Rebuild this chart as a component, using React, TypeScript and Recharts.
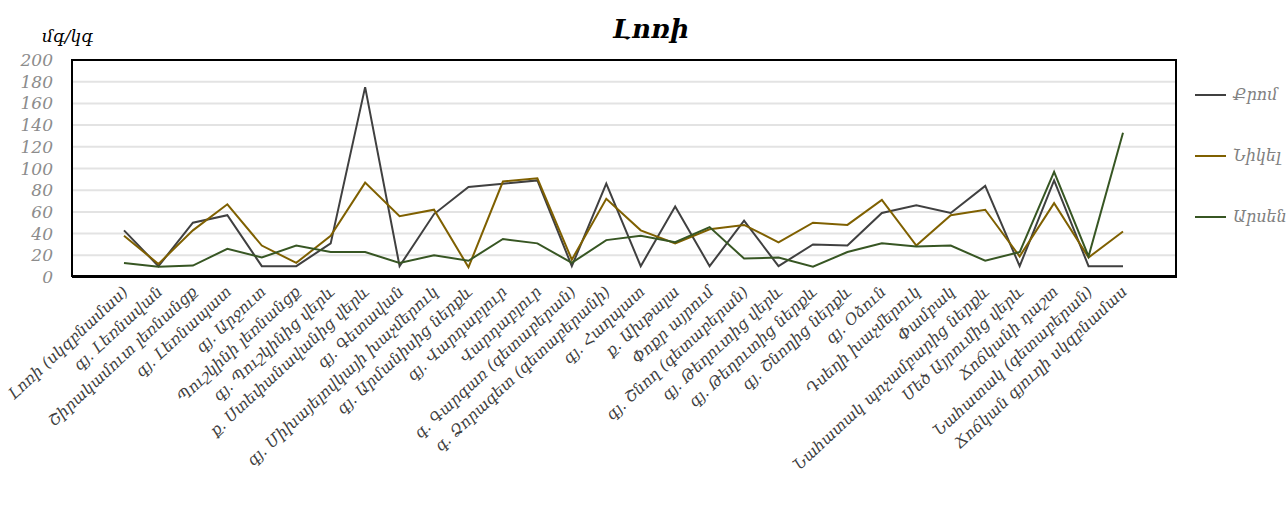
import { LineChart, Line, XAxis, YAxis, CartesianGrid } from 'recharts'

// Sampling sites along the river, upstream to downstream
const sites = [
  'Լոռի (սկզբնամաս)',
  'գյ. Լեռնավան',
  'Շիրակամուտ լեռնանցք',
  'գյ. Լեռնապատ',
  'գյ. Արջուտ',
  'Պուշկինի լեռնանցք',
  'գյ. Պուշկինից վերև',
  'ք. Ստեփանավանից վերև',
  'գյ. Գետավան',
  'գյ. Միխայելովկայի խաչմերուկ',
  'գյ. Արմանիսից ներքև',
  'գյ. Վարդաբլուր',
  'Վարդաբլուր',
  'գ. Գարգառ (գետաբերան)',
  'գ. Ձորագետ (գետաբերանի)',
  'գյ. Հաղպատ',
  'ք. Ախթալա',
  'Փոքր այրում',
  'գյ. Շնող (գետաբերան)',
  'գյ. Թեղուտից վերև',
  'գյ. Թեղուտից ներքև',
  'գյ. Շնողից ներքև',
  'գյ. Օձուն',
  'Դսեղի խաչմերուկ',
  'Փամբակ',
  'Նահատակ պոչամբարից ներքև',
  'Մեծ Այրումից վերև',
  'Ճոճկանի դաշտ',
  'Նահատակ (գետաբերան)',
  'Ճոճկան գյուղի սկզբնամաս',
]

// մգ/կգ
const chromium = [43, 10, 50, 57, 10, 10, 31, 175, 10, 58, 83, 86, 89, 10, 86, 10, 65, 10, 52, 10, 30, 29, 59, 66, 59, 84, 10, 89, 10, 10]
const nickel = [38, 12, 43, 67, 29, 13, 38, 87, 56, 62, 9, 88, 91, 16, 72, 43, 31, 44, 48, 32, 50, 48, 71, 29, 57, 62, 19, 68, 18, 42]
const arsenic = [13, 9.5, 10.5, 26, 18, 29, 23, 23, 13, 20, 15, 35, 31, 13, 34, 38, 32, 46, 17, 18, 9.5, 23, 31, 28, 29, 15, 23, 97, 19, 133]

const yTicks = [0, 20, 40, 60, 80, 100, 120, 140, 160, 180, 200]

const series = [
  { key: 'chromium', name: 'Քրոմ', color: '#404040' },
  { key: 'nickel', name: 'Նիկել', color: '#7f6000' },
  { key: 'arsenic', name: 'Արսեն', color: '#375623' },
]

const rows = sites.map((name, i) => ({
  name,
  chromium: chromium[i],
  nickel: nickel[i],
  arsenic: arsenic[i],
}))

const FONT = '"DejaVu Serif", serif'

const SiteTick = ({ x, y, payload }: any) => (
  <text
    transform={`translate(${x + 5}, ${y + 14}) rotate(-43)`}
    textAnchor="end"
    fontFamily={FONT}
    fontStyle="italic"
    fontSize={15.5}
    fill="#404040"
  >
    {payload.value}
  </text>
)

const SideLegend = () => (
  <div style={{ position: 'absolute', left: 1195, top: 64 }}>
    {series.map((s) => (
      <div key={s.key} style={{ display: 'flex', alignItems: 'center', height: 61 }}>
        <div style={{ width: 31, height: 2, background: s.color, marginRight: 7 }} />
        <span style={{ fontFamily: FONT, fontStyle: 'italic', fontSize: 16, color: '#808080', whiteSpace: 'nowrap' }}>
          {s.name}
        </span>
      </div>
    ))}
  </div>
)

export default function App() {
  return (
    <div style={{ position: 'absolute', left: 0, top: 0, width: 1287, height: 506, background: '#fff', overflow: 'hidden' }}>
      <div
        style={{
          position: 'absolute', left: 0, width: 1302, top: 14, textAlign: 'center',
          fontFamily: FONT, fontStyle: 'italic', fontWeight: 'bold', fontSize: 26, color: '#000',
        }}
      >
        Լոռի
      </div>
      <div style={{ position: 'absolute', left: 42, top: 26, fontFamily: FONT, fontStyle: 'italic', fontSize: 17, color: '#000' }}>
        մգ/կգ
      </div>
      <LineChart width={1287} height={506} data={rows} margin={{ top: 60, right: 110, bottom: 0, left: 0 }}>
        <CartesianGrid vertical={false} stroke="#e3e3e3" strokeWidth={2} />
        <XAxis
          dataKey="name"
          interval={0}
          height={229}
          padding={{ left: 52, right: 54 }}
          tickLine={false}
          tickSize={0}
          tick={<SiteTick />}
          axisLine={{ stroke: '#000', strokeWidth: 2 }}
        />
        <YAxis
          domain={[0, 200]}
          ticks={yTicks}
          interval={0}
          width={72}
          tickLine={false}
          tickSize={0}
          tickMargin={19}
          axisLine={{ stroke: '#000', strokeWidth: 2 }}
          tick={{ fontFamily: FONT, fontStyle: 'italic', fontSize: 17, fill: '#8c8c8c' }}
        />
        {series.map((s) => (
          <Line
            key={s.key}
            dataKey={s.key}
            name={s.name}
            stroke={s.color}
            strokeWidth={2}
            dot={false}
            activeDot={false}
            isAnimationActive={false}
          />
        ))}
      </LineChart>
      {/* plot frame */}
      <div
        style={{
          position: 'absolute', left: 71, top: 59, width: 1106, height: 218,
          border: '2px solid #000', boxSizing: 'border-box', pointerEvents: 'none',
        }}
      />
      <SideLegend />
    </div>
  )
}
